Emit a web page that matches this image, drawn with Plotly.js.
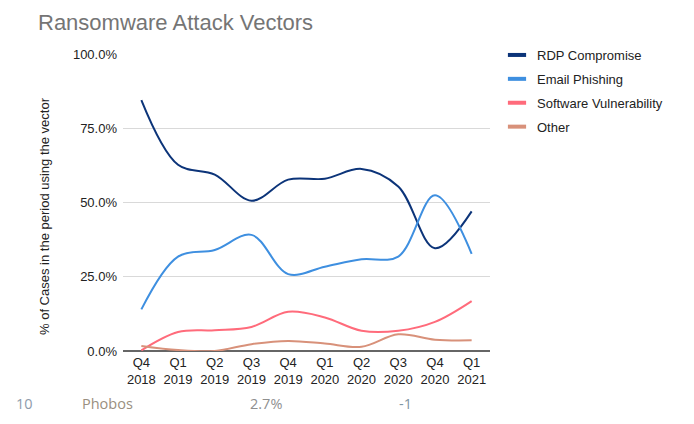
<!DOCTYPE html>
<html>
<head>
<meta charset="utf-8">
<script src="https://cdn.plot.ly/plotly-3.0.1.min.js"></script>
<style>
  html, body { margin: 0; padding: 0; background: #fff; }
  #chart { width: 694px; height: 424px; }
</style>
</head>
<body>
<div id="chart"></div>
<script>
// Quarterly share of ransomware cases by attack vector (%)
const quarters = ["Q4<br>2018", "Q1<br>2019", "Q2<br>2019", "Q3<br>2019", "Q4<br>2019",
                  "Q1<br>2020", "Q2<br>2020", "Q3<br>2020", "Q4<br>2020", "Q1<br>2021"];
const rdpCompromise = [84.5, 62.7, 59.4, 50.6, 57.7, 58.0, 61.3, 55.4, 34.6, 47.0];
const emailPhishing = [14.0, 31.8, 34.0, 39.1, 25.9, 28.4, 30.9, 31.8, 52.4, 32.7];
const softwareVuln  = [0.2, 6.4, 7.0, 8.1, 13.2, 11.3, 6.8, 6.8, 9.8, 16.8];
const otherVector   = [1.7, 0.3, 0.0, 2.3, 3.4, 2.5, 1.4, 5.6, 3.8, 3.6];

const seriesNames  = ["RDP Compromise", "Email Phishing", "Software Vulnerability", "Other"];
const seriesColors = ["#0c3479", "#3e8fe0", "#ff6b7b", "#d8917a"];
const seriesValues = [rdpCompromise, emailPhishing, softwareVuln, otherVector];

const yTicks = [0, 25, 50, 75, 100];

// footer row of the table that sits below the chart
const footerTexts  = ["10", "Phobos", "2.7%", "-1"];
const footerColors = ["#8e9bab", "#9a8f80", "#8f8f8f", "#7f96a3"];
const footerLeft   = [14, 80, 248, 397];

const W = 694, H = 424;
const M = { l: 123, r: 204, t: 54, b: 73 };
const plotW = W - M.l - M.r, plotH = H - M.t - M.b;
const px2x = p => (p - M.l) / plotW;
const px2y = p => (H - M.b - p) / plotH;

const font = "Liberation Sans, Arial, sans-serif";

const traces = [];
seriesValues.forEach((vals, i) => {
  traces.push({
    type: "scatter", mode: "lines",
    x: quarters, y: vals,
    name: seriesNames[i],
    line: { color: seriesColors[i], width: 2, shape: "spline", smoothing: 1 },
    showlegend: false, hoverinfo: "x+y+name"
  });
});
// legend keys: short thick bars
seriesNames.forEach((n, i) => {
  traces.push({
    type: "scatter", mode: "markers",
    x: [null], y: [null],
    name: n, legendgroup: "g" + i,
    marker: { symbol: "line-ew", size: 13, color: seriesColors[i],
              line: { color: seriesColors[i], width: 4 } },
    showlegend: true, hoverinfo: "skip"
  });
});

const annotations = [{
  text: "% of Cases in the period using the vector",
  xref: "paper", yref: "paper",
  x: px2x(44), y: px2y(216),
  xanchor: "center", yanchor: "middle",
  textangle: -90, showarrow: false,
  font: { family: font, size: 13, color: "#222" }
}];
footerTexts.forEach((t, i) => {
  annotations.push({
    text: t, xref: "paper", yref: "paper",
    x: px2x(footerLeft[i]), y: px2y(403),
    xanchor: "left", yanchor: "middle", showarrow: false,
    font: { family: "Open Sans, sans-serif", size: 14.5, color: footerColors[i] }
  });
});

const layout = {
  width: W, height: H,
  margin: M,
  paper_bgcolor: "#fff", plot_bgcolor: "#fff",
  font: { family: font, size: 13, color: "#222" },
  title: {
    text: "Ransomware Attack Vectors",
    font: { family: font, size: 22, color: "#757575" },
    x: 38 / W, xanchor: "left", xref: "container",
    y: 1 - 22 / H, yanchor: "middle", yref: "container"
  },
  xaxis: {
    type: "category",
    range: [-0.5, quarters.length - 0.5],
    showgrid: false, zeroline: false,
    showline: false, ticks: "", ticklabelstandoff: 2,
    tickfont: { family: font, size: 13, color: "#222" },
    fixedrange: true
  },
  yaxis: {
    range: [0, 100],
    tickvals: yTicks, ticktext: yTicks.map(v => v.toFixed(1) + "%"),
    showgrid: true, gridcolor: "#d9d9d9", gridwidth: 1,
    zeroline: true, zerolinecolor: "#666", zerolinewidth: 1.5,
    showline: false, ticks: "", ticklabelstandoff: 5,
    tickfont: { family: font, size: 13, color: "#222" },
    fixedrange: true
  },
  legend: {
    x: px2x(497), xanchor: "left",
    y: px2y(40), yanchor: "top",
    traceorder: "grouped", tracegroupgap: 4,
    font: { family: font, size: 13, color: "#222" },
    bgcolor: "rgba(0,0,0,0)", borderwidth: 0
  },
  annotations: annotations,
  showlegend: true
};

Plotly.newPlot("chart", traces, layout, { displayModeBar: false, staticPlot: true });
</script>
</body>
</html>
